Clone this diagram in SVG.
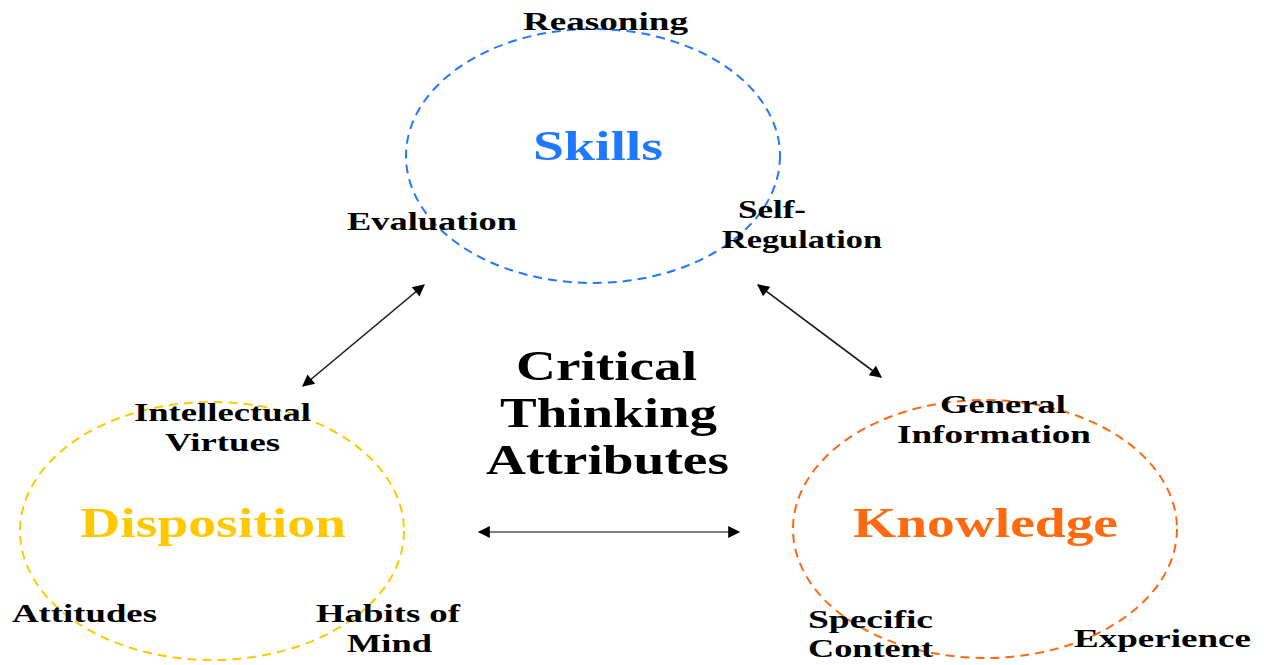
<svg xmlns="http://www.w3.org/2000/svg" width="1264" height="665" viewBox="0 0 1264 665">
<style>
text{font-family:"Liberation Serif","Times New Roman",serif;font-weight:bold;}
.lbl{font-size:26px;fill:#000;}
.big{font-size:43px;}
.ring{fill:none;stroke-width:2;stroke-dasharray:9 6;}
.con{stroke:#1a1a1a;stroke-width:1.6;fill:none;marker-start:url(#ah);marker-end:url(#ah);}
</style>
<defs>
<marker id="ah" viewBox="0 0 10 10" refX="9" refY="5" markerWidth="15" markerHeight="12" markerUnits="userSpaceOnUse" orient="auto-start-reverse">
<path d="M0,0 L10,5 L0,10 z" fill="#000"/>
</marker>
</defs>
<rect width="1264" height="665" fill="#fff"/>
<g id="connectors">
<line class="con" x1="303" y1="386" x2="424" y2="285"/>
<line class="con" x1="758" y1="285" x2="881" y2="377"/>
<line class="con" x1="479" y1="532" x2="739" y2="532" style="stroke:#555"/>
</g>
<g id="skills">
<ellipse class="ring" cx="593" cy="156" rx="187" ry="127" stroke="#1f78ff"/>
<text class="big" x="533" y="160" textLength="130" lengthAdjust="spacingAndGlyphs" fill="#1f78ff">Skills</text>
<text class="lbl" x="523" y="30" textLength="165" lengthAdjust="spacingAndGlyphs">Reasoning</text>
<text class="lbl" x="347" y="230" textLength="170" lengthAdjust="spacingAndGlyphs">Evaluation</text>
<text class="lbl" x="738" y="218" textLength="68" lengthAdjust="spacingAndGlyphs">Self-</text>
<text class="lbl" x="722" y="248" textLength="160" lengthAdjust="spacingAndGlyphs">Regulation</text>
</g>
<g id="center">
<text class="big" x="516" y="380" textLength="181" lengthAdjust="spacingAndGlyphs" fill="#000">Critical</text>
<text class="big" x="500" y="427" textLength="217" lengthAdjust="spacingAndGlyphs" fill="#000">Thinking</text>
<text class="big" x="486" y="474" textLength="243" lengthAdjust="spacingAndGlyphs" fill="#000">Attributes</text>
</g>
<g id="disposition">
<ellipse class="ring" cx="212" cy="531" rx="192" ry="129" stroke="#ffc800"/>
<text class="big" x="80" y="537" textLength="266" lengthAdjust="spacingAndGlyphs" fill="#ffc800">Disposition</text>
<text class="lbl" x="134" y="421" textLength="177" lengthAdjust="spacingAndGlyphs">Intellectual</text>
<text class="lbl" x="165" y="451" textLength="115" lengthAdjust="spacingAndGlyphs">Virtues</text>
<text class="lbl" x="12" y="622" textLength="145" lengthAdjust="spacingAndGlyphs">Attitudes</text>
<text class="lbl" x="316" y="622" textLength="144" lengthAdjust="spacingAndGlyphs">Habits of</text>
<text class="lbl" x="347" y="652" textLength="85" lengthAdjust="spacingAndGlyphs">Mind</text>
</g>
<g id="knowledge">
<ellipse class="ring" cx="985" cy="529" rx="192" ry="129" stroke="#ff6a10"/>
<text class="big" x="853" y="537" textLength="265" lengthAdjust="spacingAndGlyphs" fill="#ff6a10">Knowledge</text>
<text class="lbl" x="940" y="413" textLength="126" lengthAdjust="spacingAndGlyphs">General</text>
<text class="lbl" x="897" y="443" textLength="194" lengthAdjust="spacingAndGlyphs">Information</text>
<text class="lbl" x="808" y="628" textLength="125" lengthAdjust="spacingAndGlyphs">Specific</text>
<text class="lbl" x="808" y="657" textLength="125" lengthAdjust="spacingAndGlyphs">Content</text>
<text class="lbl" x="1074" y="647" textLength="177" lengthAdjust="spacingAndGlyphs">Experience</text>
</g>
</svg>
